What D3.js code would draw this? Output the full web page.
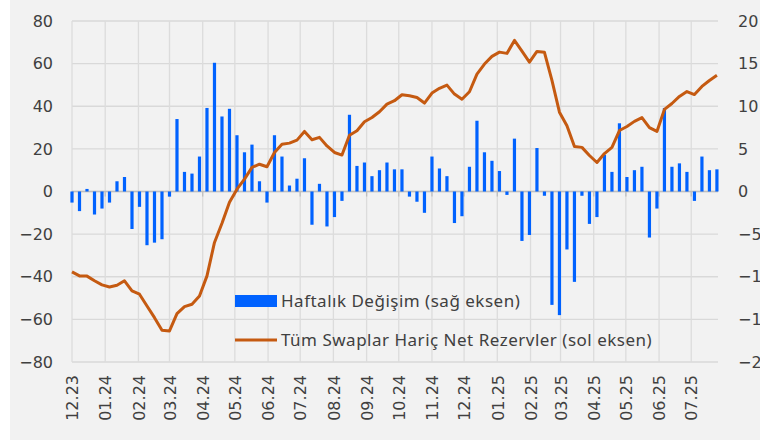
<!DOCTYPE html>
<html>
<head>
<meta charset="utf-8">
<script src="https://cdn.jsdelivr.net/npm/d3@7"></script>
<style>
  body { margin: 0; background: #fff; }
  text { font-family: "DejaVu Sans", sans-serif; fill: #404040; }
  .legend text { font-family: "Noto Sans", sans-serif; letter-spacing: 0.5px; }
</style>
</head>
<body>
<div id="chart"></div>
<script>
// weekly change, billion USD (right axis)
const weeklyChange = [
  -1.3, -2.3, 0.3, -2.7, -2.0, -1.3, 1.2, 1.7, -4.4, -1.8,
  -6.3, -6.0, -5.6, -0.6, 8.5, 2.3, 2.1, 4.1, 9.8, 15.1,
  8.8, 9.7, 6.6, 4.6, 5.5, 1.2, -1.3, 6.6, 4.1, 0.7,
  1.5, 3.9, -3.9, 0.9, -4.1, -3.0, -1.1, 9.0, 3.0, 3.4,
  1.8, 2.5, 3.4, 2.6, 2.6, -0.6, -1.2, -2.5, 4.1, 2.7,
  1.8, -3.7, -2.9, 2.9, 8.3, 4.6, 3.6, 2.4, -0.4, 6.2,
  -5.8, -5.1, 5.1, -0.5, -13.3, -14.5, -6.8, -10.6, -0.5, -3.8,
  -3.0, 4.3, 2.3, 8.0, 1.7, 2.5, 2.9, -5.4, -2.0, 9.8,
  2.9, 3.3, 2.3, -1.1, 4.1, 2.5, 2.6
];
// net reserves excluding swaps, billion USD (left axis)
const netReserves = [
  -37.7, -39.6, -39.7, -41.9, -43.8, -44.8, -44.0, -41.9, -46.6, -48.2,
  -53.7, -59.2, -65.1, -65.4, -57.3, -54.0, -52.9, -49.0, -39.6, -23.9,
  -14.9, -5.0, 1.1, 5.8, 11.3, 12.8, 11.6, 18.3, 22.2, 22.7,
  24.1, 28.2, 24.3, 25.4, 21.4, 18.3, 17.1, 26.4, 28.5, 32.7,
  34.7, 37.4, 41.0, 42.6, 45.4, 44.9, 44.1, 41.5, 46.2, 48.4,
  49.9, 45.7, 43.3, 46.8, 55.1, 59.8, 63.4, 65.4, 64.8, 70.9,
  65.9, 60.7, 65.7, 65.3, 52.1, 37.2, 30.9, 21.1, 20.7, 16.9,
  13.6, 17.8, 20.7, 28.6, 30.5, 32.9, 34.7, 30.0, 28.2, 38.5,
  41.3, 44.6, 46.9, 45.5, 49.3, 52.1, 54.5
];
const leftTicks = [80, 60, 40, 20, 0, -20, -40, -60, -80];
const rightTicks = [20, 15, 10, 5, 0, -5, -10, -15, -20];
const startDate = new Date(2023, 11, 1);
const endDate = new Date(2025, 6, 26);
const weeks = d3.timeFriday.range(startDate, endDate); // weekly fridays
const months = d3.timeMonth.range(startDate, endDate);
const legendLabels = ["Haftalık Değişim (sağ eksen)", "Tüm Swaplar Hariç Net Rezervler (sol eksen)"];

const width = 760;
const height = 440;
const plot_left = 72;
const plot_right = 718;
const plot_top = 21;
const plot_bottom = 362;
const barColor = "#0062ff";
const lineColor = "#c55a11";

const svg = d3.select("#chart").append("svg").attr("width", width).attr("height", height);

svg.append("rect").attr("x", 10).attr("y", 0).attr("width", width - 10).attr("height", height).attr("fill", "#f2f2f2");

const xScale = d3.scaleTime().domain([startDate, endDate]).range([plot_left, plot_right]);
const yLeft = d3.scaleLinear().domain([-80, 80]).range([plot_bottom, plot_top]);
const yRight = d3.scaleLinear().domain([-20, 20]).range([plot_bottom, plot_top]);

// gridlines
svg.append("g").selectAll("line").data(leftTicks).enter().append("line")
  .attr("x1", plot_left).attr("x2", plot_right)
  .attr("y1", d => yLeft(d)).attr("y2", d => yLeft(d))
  .attr("stroke", "#d9d9d9").attr("stroke-width", 1.3);
svg.append("g").selectAll("line").data(months).enter().append("line")
  .attr("x1", d => xScale(d)).attr("x2", d => xScale(d))
  .attr("y1", plot_top).attr("y2", plot_bottom)
  .attr("stroke", "#dcdcdc").attr("stroke-width", 1.3);

// zero line + small ticks
svg.append("line").attr("x1", plot_left).attr("x2", plot_right)
  .attr("y1", yLeft(0)).attr("y2", yLeft(0)).attr("stroke", "#bfbfbf").attr("stroke-width", 1.3);
svg.append("g").selectAll("line").data(months).enter().append("line")
  .attr("x1", d => xScale(d)).attr("x2", d => xScale(d))
  .attr("y1", yLeft(0)).attr("y2", yLeft(0) + 5)
  .attr("stroke", "#bfbfbf").attr("stroke-width", 1.3);

// bars
svg.append("g").selectAll("rect").data(weeklyChange).enter().append("rect")
  .attr("x", (d, i) => xScale(weeks[i]) - 1.6)
  .attr("width", 3.2)
  .attr("y", d => Math.min(yRight(d), yRight(0)))
  .attr("height", d => Math.abs(yRight(d) - yRight(0)))
  .attr("fill", barColor);

// line
const line = d3.line().x((d, i) => xScale(weeks[i])).y(d => yLeft(d));
svg.append("path").datum(netReserves)
  .attr("d", line).attr("fill", "none")
  .attr("stroke", lineColor).attr("stroke-width", 3).attr("stroke-linejoin", "round");

// axes
const leftAxis = d3.axisLeft(yLeft).tickValues(leftTicks).tickSize(0).tickPadding(19);
svg.append("g").attr("transform", `translate(${plot_left},0)`).call(leftAxis)
  .call(g => g.select(".domain").remove())
  .selectAll("text").attr("font-size", 16).attr("font-family", null).attr("fill", "#404040");

const rightAxis = d3.axisRight(yRight).tickValues(rightTicks).tickSize(0).tickPadding(20);
svg.append("g").attr("transform", `translate(${plot_right},0)`).call(rightAxis)
  .call(g => g.select(".domain").remove())
  .selectAll("text").attr("font-size", 16).attr("font-family", null).attr("fill", "#404040");

const xAxis = d3.axisBottom(xScale).tickValues(months).tickFormat(d3.timeFormat("%m.%y")).tickSize(0);
svg.append("g").attr("transform", `translate(0,${plot_bottom})`).call(xAxis)
  .call(g => g.select(".domain").remove())
  .selectAll("text")
  .attr("font-size", 16).attr("font-family", null).attr("fill", "#404040")
  .attr("transform", "rotate(-90)")
  .attr("x", -13).attr("y", 0).attr("dy", "0.36em")
  .style("text-anchor", "end");

// legend
const legend = svg.append("g").attr("class", "legend");
legend.append("rect").attr("x", 235).attr("y", 295).attr("width", 42).attr("height", 12).attr("fill", barColor);
legend.append("text").attr("x", 281).attr("y", 307).attr("font-size", 17).text(legendLabels[0]);
legend.append("line").attr("x1", 235).attr("x2", 277).attr("y1", 340).attr("y2", 340)
  .attr("stroke", lineColor).attr("stroke-width", 3);
legend.append("text").attr("x", 281).attr("y", 346).attr("font-size", 17).text(legendLabels[1]);
</script>
</body>
</html>
